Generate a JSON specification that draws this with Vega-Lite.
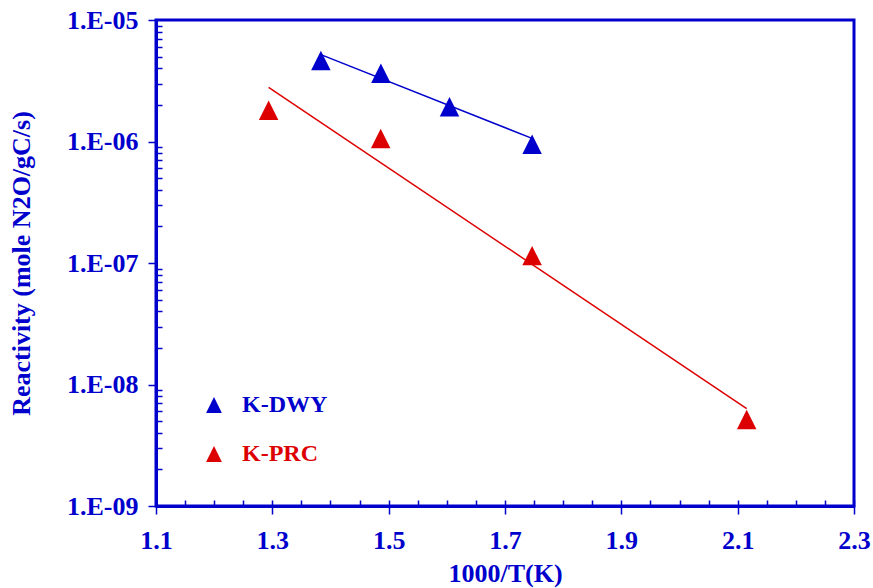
{
  "$schema": "https://vega.github.io/schema/vega-lite/v6.json",
  "autosize": {"type": "none"},
  "width": 698,
  "height": 486,
  "padding": {"left": 156, "top": 20, "right": 19, "bottom": 82},
  "background": "white",
  "config": {
    "view": {"stroke": "#0000CC", "strokeWidth": 3},
    "font": "Liberation Serif"
  },
  "datasets": {
    "points": [
      {"series": "K-DWY", "x": 1.3835, "y": 4.64e-6},
      {"series": "K-DWY", "x": 1.4866, "y": 3.65e-6},
      {"series": "K-DWY", "x": 1.6046, "y": 1.93e-6},
      {"series": "K-DWY", "x": 1.7466, "y": 9.5e-7},
      {"series": "K-PRC", "x": 1.2936, "y": 1.81e-6},
      {"series": "K-PRC", "x": 1.4863, "y": 1.06e-6},
      {"series": "K-PRC", "x": 1.7466, "y": 1.15e-7},
      {"series": "K-PRC", "x": 2.1155, "y": 5.15e-9}
    ],
    "fits": [
      {"series": "K-DWY", "x": 1.3835, "y": 5.19e-6},
      {"series": "K-DWY", "x": 1.7466, "y": 1.06e-6},
      {"series": "K-PRC", "x": 1.2936, "y": 2.79e-6},
      {"series": "K-PRC", "x": 2.1155, "y": 6.34e-9}
    ]
  },
  "layer": [
    {
      "data": {"name": "fits"},
      "transform": [{"filter": "datum.series == 'K-DWY'"}],
      "mark": {"type": "line", "strokeWidth": 1.5, "color": "#0000CC"},
      "encoding": {
        "x": {
          "field": "x", "type": "quantitative",
          "scale": {"domain": [1.1, 2.3], "nice": false, "zero": false},
          "axis": {
            "title": "1000/T(K)", "orient": "bottom",
            "values": [1.1, 1.3, 1.5, 1.7, 1.9, 2.1, 2.3], "format": ".1f",
            "grid": false, "labelFlush": false, "labelOverlap": false,
            "domainColor": "#0000CC", "domainWidth": 3,
            "tickColor": "#0000CC", "tickSize": 8, "tickWidth": 1.5,
            "labelColor": "#0000CC", "labelFont": "Liberation Serif", "labelFontSize": 26, "labelFontWeight": "bold", "labelPadding": 13,
            "titleColor": "#0000CC", "titleFont": "Liberation Serif", "titleFontSize": 26, "titleFontWeight": "bold", "titlePadding": 7
          }
        },
        "y": {
          "field": "y", "type": "quantitative",
          "scale": {"type": "log", "domain": [1e-9, 1e-5], "nice": false},
          "axis": {
            "title": "Reactivity (mole N2O/gC/s)", "orient": "left",
            "values": [1e-9, 1e-8, 1e-7, 1e-6, 1e-5],
            "labelExpr": "'1.E-0' + round(-log(datum.value) / LN10)",
            "grid": false, "labelFlush": false, "labelOverlap": false,
            "domainColor": "#0000CC", "domainWidth": 3,
            "tickColor": "#0000CC", "tickSize": 8, "tickWidth": 1.5,
            "labelColor": "#0000CC", "labelFont": "Liberation Serif", "labelFontSize": 26, "labelFontWeight": "bold", "labelPadding": 10,
            "titleColor": "#0000CC", "titleFont": "Liberation Serif", "titleFontSize": 26, "titleFontWeight": "bold", "titlePadding": 32
          }
        }
      }
    },
    {
      "data": {"name": "fits"},
      "transform": [{"filter": "datum.series == 'K-PRC'"}],
      "mark": {"type": "line", "strokeWidth": 1.5, "color": "#DD0000"},
      "encoding": {
        "x": {"field": "x", "type": "quantitative", "axis": null},
        "y": {"field": "y", "type": "quantitative", "axis": null}
      }
    },
    {
      "data": {"name": "points"},
      "mark": {"type": "point", "filled": true, "opacity": 1, "shape": "M-1,1L0,-1L1,1Z", "size": 380},
      "encoding": {
        "x": {
          "field": "x", "type": "quantitative",
          "axis": {
            "title": null, "orient": "bottom", "labels": false, "domain": false, "grid": false,
            "values": [1.1, 1.15, 1.2, 1.25, 1.3, 1.35, 1.4, 1.45, 1.5, 1.55, 1.6, 1.65, 1.7, 1.75, 1.8, 1.85, 1.9, 1.95, 2.0, 2.05, 2.1, 2.15, 2.2, 2.25, 2.3],
            "tickColor": "#0000CC", "tickSize": -6, "tickWidth": 1.5
          }
        },
        "y": {
          "field": "y", "type": "quantitative",
          "axis": {
            "title": null, "orient": "left", "labels": false, "domain": false, "grid": false,
            "values": [2e-9, 3e-9, 4e-9, 5e-9, 6e-9, 7e-9, 8e-9, 9e-9,
                       2e-8, 3e-8, 4e-8, 5e-8, 6e-8, 7e-8, 8e-8, 9e-8,
                       2e-7, 3e-7, 4e-7, 5e-7, 6e-7, 7e-7, 8e-7, 9e-7,
                       2e-6, 3e-6, 4e-6, 5e-6, 6e-6, 7e-6, 8e-6, 9e-6],
            "tickColor": "#0000CC", "tickSize": -6, "tickWidth": 1.5
          }
        },
        "color": {
          "field": "series", "type": "nominal",
          "scale": {"domain": ["K-DWY", "K-PRC"], "range": ["#0000CC", "#DD0000"]},
          "legend": {
            "title": null, "orient": "none", "legendX": 46, "legendY": 373,
            "padding": 0, "symbolType": "M-1,1L0,-1L1,1Z", "symbolSize": 250,
            "labelFont": "Liberation Serif", "labelFontSize": 24, "labelFontWeight": "bold",
            "labelColor": {"expr": "datum.value == 'K-DWY' ? '#0000CC' : '#DD0000'"},
            "labelOffset": 16, "labelLimit": 300, "rowPadding": 25
          }
        }
      }
    }
  ],
  "resolve": {"axis": {"x": "independent", "y": "independent"}}
}
